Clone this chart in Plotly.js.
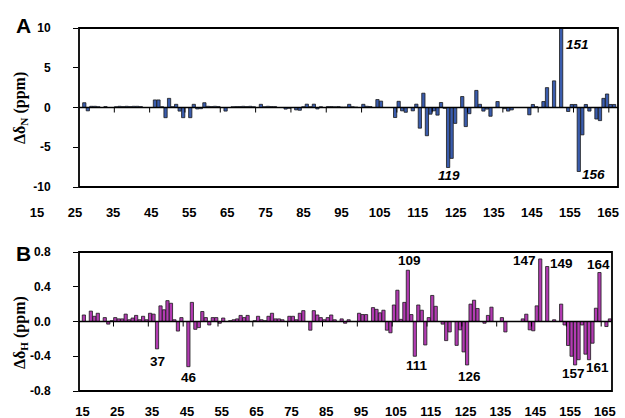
<!DOCTYPE html>
<html><head><meta charset="utf-8">
<script src="https://cdn.plot.ly/plotly-3.0.1.min.js"></script>
<style>html,body{margin:0;padding:0;background:#fff;} #chart{width:625px;height:418px;}</style>
</head><body><div id="chart"></div>
<script>
// ---- data ----
const residues = [15,16,17,18,19,20,21,22,23,24,25,26,27,28,29,30,31,32,33,34,35,36,37,38,39,40,41,42,43,44,45,46,47,48,49,50,51,52,53,54,55,56,57,58,59,60,61,62,63,64,65,66,67,68,69,70,71,72,73,74,75,76,77,78,79,80,81,82,83,84,85,86,87,88,89,90,91,92,93,94,95,96,97,98,99,100,101,102,103,104,105,106,107,108,109,110,111,112,113,114,115,116,117,118,119,120,121,122,123,124,125,126,127,128,129,130,131,132,133,134,135,136,137,138,139,140,141,142,143,144,145,146,147,148,149,150,151,152,153,154,155,156,157,158,159,160,161,162,163,164,165,166,167];
const deltaN = [
 0, 0.6, -0.42, 0.15, 0.15, 0.1, 0, 0.12, 0, 0,
 0.1, 0.15, 0.12, 0.15, 0.12, 0.15, 0.15, 0.12, 0, 0,
 0, 0.95, 0.95, 0.1, -1.28, 1.15, 0.1, 0.4, -0.45, -1.28,
 0, -1.28, 0.4, -0.18, -0.15, 0.6, 0.15, 0.12, 0.15, 0.12,
 0, -0.45, 0, 0.1, 0.12, 0.12, 0.15, 0.12, 0.15, 0.1,
 0, 0.4, 0.1, 0.15, 0.12, 0.12, 0, 0, -0.2, -0.1,
 0, -0.3, -0.35, 0.1, 0.42, 0.1, 0.42, -0.18, 0.1, 0,
 0.12, 0.12, 0.1, 0.12, 0.05, 0.05, 0.4, 0.1, 0.05, 0,
 0.4, 0.15, 0.12, 0, 1.0, 0.8, 0, 0, 0, -1.26,
 0.78, -0.42, -0.6, 0, -0.42, 0.42, -2.6, 1.8, -3.55, -0.84,
 -0.42, -0.96, 0.63, -0.1, -7.55, -6.4, -2.0, 0, 1.38, -2.4,
 -0.78, 0, 2.15, 0.4, -0.45, -0.2, -1.1, 0, 0.75, 0,
 -0.15, -0.45, -0.3, 0, 0, 0, 0, -0.92, 0.38, 0.1,
 0, 0.75, 2.5, 0, 3.35, 0, 11, 0, -0.5, 0.38,
 0.38, -8.05, -3.44, 0.38, -0.45, 0, -1.45, -1.65, 1.15, 1.7,
 0.38, 0.38, 0];
const deltaH = [
 0, 0.075, 0, 0.12, 0.06, 0.095, 0, 0.045, -0.03, 0.01,
 0.045, 0.03, 0.03, 0.085, 0.02, 0.04, 0.07, 0.02, 0.06, 0.02,
 0.095, 0.085, -0.315, 0.18, 0.135, 0.24, 0.21, 0.02, -0.11, 0.045,
 0, -0.52, 0.22, -0.09, -0.07, 0.115, 0.045, -0.04, 0.045, 0.045,
 -0.02, 0.04, 0, 0.01, 0.02, 0.03, 0.07, 0.045, 0.07, 0,
 0.01, 0.06, 0.02, 0.01, 0.06, 0.095, 0.03, 0.03, 0.02, 0,
 0.06, 0.06, 0.02, 0.095, 0.125, 0, -0.1, 0.125, 0.075, 0.045,
 0.02, 0.045, 0.075, 0.02, 0, 0.03, -0.02, 0.02, 0, 0,
 0.095, 0.08, 0.08, 0, 0.16, 0.14, 0.1, 0.13, -0.1, -0.13,
 0.19, 0.36, 0.025, 0.22, 0.59, 0.08, -0.4, 0.19, 0.13, -0.27,
 0.045, 0.3, 0.175, 0, -0.03, -0.22, -0.12, 0, -0.275, -0.096,
 -0.35, -0.5, 0.2, 0.245, 0.15, 0, -0.02, 0.07, 0.165, 0,
 0, 0.045, -0.12, 0, 0, 0, 0, 0.03, 0.084, -0.096,
 -0.107, 0.18, 0.72, 0, 0.633, 0, 0.02, 0, 0.2, -0.04,
 -0.276, -0.4, -0.5, -0.44, -0.04, -0.376, -0.44, -0.25, 0.153, 0.564,
 0, -0.058, 0.03];
const yTicksN = [-10, -5, 0, 5, 10];
const yTickTextN = ['-10', '-5', '0', '5', '10'];
const yTicksH = [-0.8, -0.4, 0, 0.4, 0.8];
const yTickTextH = ['-0.8', '-0.4', '0.0', '0.4', '0.8'];
const xTickLabels = [15, 25, 35, 45, 55, 65, 75, 85, 95, 105, 115, 125, 135, 145, 155, 165];
const tickMarks = [24.5, 34.5, 44.5, 54.5, 64.5, 74.5, 84.5, 94.5, 104.5, 114.5, 124.5, 134.5, 144.5, 154.5, 164.5];
const labelsN = [119, 151, 156];
const labelsH = [37, 46, 109, 111, 126, 147, 149, 157, 161, 164];
const panelLetters = ['A', 'B'];
const yTitleN = 'Δδ<sub>N</sub> (ppm)';
const yTitleH = 'Δδ<sub>H</sub> (ppm)';

// ---- layout helpers (pixel -> paper) ----
const W = 625, H = 418;
const px = v => v / W;
const py = v => 1 - v / H;
const SANS = 'Liberation Sans, Arial, sans-serif';
const SERIF = 'Liberation Serif, Times New Roman, serif';
const BOLD = 'bold';

const domYA = [py(187), py(28)];
const domYB = [py(391), py(252)];

const barLine = {color: '#1a1a1a', width: 0.8};
const traces = [
  {type: 'bar', x: residues, y: deltaN, xaxis: 'x', yaxis: 'y',
   marker: {color: '#3A5CAD', line: barLine}, hoverinfo: 'skip', showlegend: false},
  {type: 'bar', x: residues, y: deltaH, xaxis: 'x2', yaxis: 'y2',
   marker: {color: '#B23BB2', line: barLine}, hoverinfo: 'skip', showlegend: false},
  {type: 'scatter', mode: 'markers', x: [xTickLabels[0]], y: [0], xaxis: 'x3', yaxis: 'y3',
   marker: {opacity: 0}, hoverinfo: 'skip', showlegend: false}
];

const valAxis = (dom, range, anchor, tv, tt) => ({
  domain: dom, range: range, anchor: anchor,
  tickmode: 'array', tickvals: tv, ticktext: tt,
  ticks: 'outside', ticklen: 5, tickwidth: 1, tickcolor: '#000',
  ticklabelstandoff: 20,
  tickfont: {family: SANS, size: 12, color: '#000', weight: BOLD},
  showline: false, showgrid: false, zeroline: false, fixedrange: true
});

const layout = {
  width: W, height: H,
  margin: {l: 0, r: 0, t: 0, b: 0, pad: 0},
  paper_bgcolor: '#fff', plot_bgcolor: 'rgba(0,0,0,0)',
  bargap: 0.08,
  showlegend: false,
  xaxis: {domain: [px(79), px(618)], range: [14.5, 167.1], anchor: 'y',
          showline: false, ticks: '', showticklabels: false, showgrid: false, zeroline: false, fixedrange: true},
  xaxis2: {domain: [px(79), px(612)], range: [14.6, 167.6], anchor: 'y2',
          showline: false, ticks: '', showgrid: false, zeroline: false, fixedrange: true,
          tickmode: 'array', tickvals: xTickLabels, ticktext: xTickLabels.map(String),
          ticklabelstandoff: 11, ticklabelshift: 2,
          tickfont: {family: SANS, size: 13, color: '#000', weight: BOLD}},
  xaxis3: {domain: [px(36.6), px(608.4)], range: [14.9, 165.1], anchor: 'y3',
          showline: false, ticks: '', showgrid: false, zeroline: false, fixedrange: true,
          tickmode: 'array', tickvals: xTickLabels, ticktext: xTickLabels.map(String),
          ticklabelstandoff: 16,
          tickfont: {family: SANS, size: 13, color: '#000', weight: BOLD}},
  yaxis: valAxis(domYA, [-10, 10], 'x', yTicksN, yTickTextN),
  yaxis2: valAxis(domYB, [-0.8, 0.8], 'x2', yTicksH, yTickTextH),
  yaxis3: {domain: domYA, range: [-10, 10], anchor: 'x3', visible: false, fixedrange: true},
  shapes: [],
  annotations: []
};

// frames, zero lines, category tick marks
[['x', 'y'], ['x2', 'y2']].forEach(([xa, ya]) => {
  layout.shapes.push(
    {type: 'line', xref: xa + ' domain', yref: ya, x0: 0, x1: 1, y0: 0, y1: 0,
     line: {color: '#000', width: 1.5}, layer: 'above'},
    {type: 'rect', xref: xa + ' domain', yref: ya + ' domain', x0: 0, x1: 1, y0: 0, y1: 1,
     line: {color: '#000', width: 1.8}, fillcolor: 'rgba(0,0,0,0)', layer: 'above'}
  );
  tickMarks.forEach(t => layout.shapes.push(
    {type: 'line', xref: xa, yref: ya, ysizemode: 'pixel', yanchor: 0,
     x0: t, x1: t, y0: 0, y1: -5, line: {color: '#000', width: 1}, layer: 'above'}
  ));
});

// panel letters and y titles
const centered = {xanchor: 'center', yanchor: 'middle', showarrow: false, xref: 'paper', yref: 'paper'};
layout.annotations.push(
  Object.assign({text: panelLetters[0], x: px(24), y: py(26),
   font: {family: SANS, size: 21, color: '#000', weight: BOLD}}, centered),
  Object.assign({text: panelLetters[1], x: px(24), y: py(254),
   font: {family: SANS, size: 21, color: '#000', weight: BOLD}}, centered),
  Object.assign({text: yTitleN, x: px(20), y: py(108), textangle: -90,
   font: {family: SERIF, size: 16, color: '#000', weight: BOLD}}, centered),
  Object.assign({text: yTitleH, x: px(20), y: py(333), textangle: -90,
   font: {family: SERIF, size: 16, color: '#000', weight: BOLD}}, centered)
);

// residue labels (placement styles)
const styleN = {
  119: {xanchor: 'center', yanchor: 'top', xshift: 1, yshift: 1},
  151: {xanchor: 'left', yanchor: 'top', xshift: 4, yshift: -8},
  156: {xanchor: 'left', yanchor: 'middle', xshift: 2, yshift: -3}
};
const styleH = {
  37: {xanchor: 'center', yanchor: 'top', xshift: 0, yshift: -4},
  46: {xanchor: 'center', yanchor: 'top', xshift: 1, yshift: -2},
  109: {xanchor: 'center', yanchor: 'bottom', xshift: 2, yshift: 1},
  111: {xanchor: 'center', yanchor: 'top', xshift: 2, yshift: -1},
  126: {xanchor: 'center', yanchor: 'top', xshift: 2, yshift: -3},
  147: {xanchor: 'right', yanchor: 'middle', xshift: -3, yshift: -2},
  149: {xanchor: 'left', yanchor: 'middle', xshift: 2, yshift: 3},
  157: {xanchor: 'center', yanchor: 'top', xshift: -2, yshift: 0},
  161: {xanchor: 'left', yanchor: 'top', xshift: -4, yshift: 1},
  164: {xanchor: 'center', yanchor: 'bottom', xshift: -1, yshift: 0}
};
labelsN.forEach(r => {
  const v = deltaN[residues.indexOf(r)];
  layout.annotations.push(Object.assign({
    text: String(r), xref: 'x', yref: 'y', x: r, y: Math.max(-10, Math.min(10, v)),
    showarrow: false, borderpad: 0,
    font: {family: SANS, size: 13.5, color: '#000', weight: BOLD, style: 'italic'}
  }, styleN[r]));
});
labelsH.forEach(r => {
  const v = deltaH[residues.indexOf(r)];
  layout.annotations.push(Object.assign({
    text: String(r), xref: 'x2', yref: 'y2', x: r, y: v,
    showarrow: false, borderpad: 0,
    font: {family: SANS, size: 13.5, color: '#000', weight: BOLD}
  }, styleH[r]));
});

Plotly.newPlot('chart', traces, layout, {staticPlot: true, displayModeBar: false});
</script>
</body></html>
